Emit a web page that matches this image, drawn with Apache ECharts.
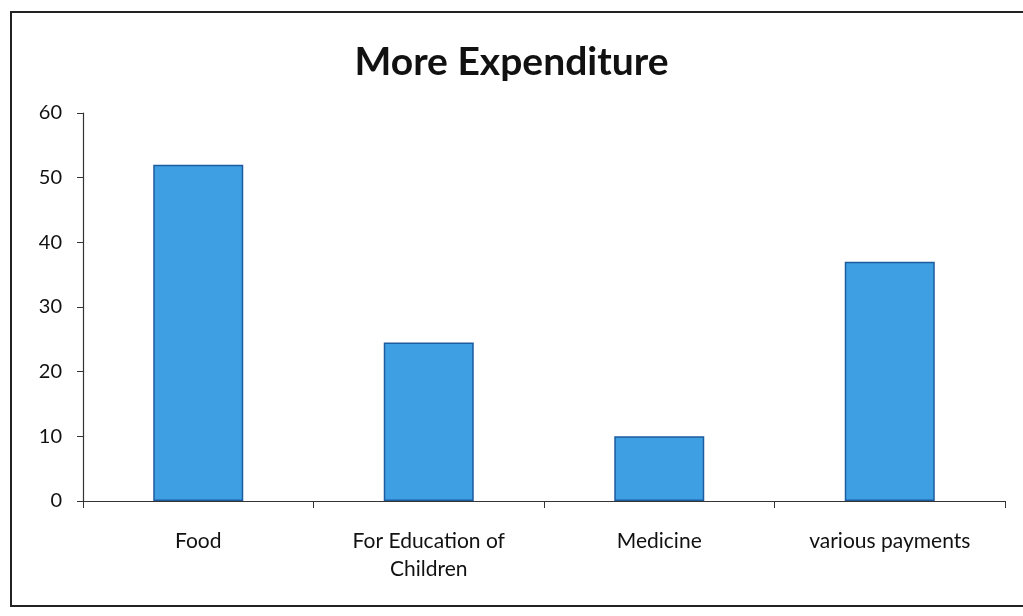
<!DOCTYPE html>
<html>
<head>
<meta charset="utf-8">
<script src="https://cdn.jsdelivr.net/npm/echarts@6/dist/echarts.min.js"></script>
<style>
  html, body { margin: 0; padding: 0; background: #fff; }
  #chart { width: 1023px; height: 616px; }
</style>
</head>
<body>
<div id="chart"></div>
<script>
// Spending categories and their values
const categories = ['Food', 'For Education of\nChildren', 'Medicine', 'various payments'];
const values = [52, 24.5, 10, 37];
const yTicks = { min: 0, max: 60, interval: 10 };

const chart = echarts.init(document.getElementById('chart'), null, { renderer: 'canvas' });

const FONT = 'Lato, "Open Sans", sans-serif';

chart.setOption({
  backgroundColor: '#ffffff',
  animation: false,
  title: {
    text: 'More Expenditure',
    left: 'center',
    top: 38,
    textStyle: { fontFamily: FONT, fontWeight: 'bold', fontSize: 39, color: '#111' }
  },
  graphic: [{
    type: 'rect',
    shape: { x: 11, y: 12, width: 1030, height: 594 },
    style: { fill: 'none', stroke: '#222', lineWidth: 2 },
    silent: true
  }],
  grid: { left: 83, right: 18, top: 113, bottom: 115 },
  xAxis: {
    type: 'category',
    data: categories,
    axisLine: { lineStyle: { color: '#333', width: 1.2 } },
    axisTick: { show: true, length: 7, lineStyle: { color: '#333' } },
    axisLabel: {
      margin: 26,
      fontFamily: FONT, fontSize: 21, color: '#111', lineHeight: 28
    }
  },
  yAxis: {
    type: 'value',
    min: yTicks.min, max: yTicks.max, interval: yTicks.interval,
    axisLine: { show: true, lineStyle: { color: '#333', width: 1.2 } },
    axisTick: { show: true, length: 6, lineStyle: { color: '#333' } },
    splitLine: { show: false },
    axisLabel: { margin: 21, fontFamily: FONT, fontSize: 20, color: '#111' }
  },
  series: [{
    type: 'bar',
    data: values,
    barWidth: 90,
    itemStyle: { color: '#3e9fe2', borderColor: '#1d5c9e', borderWidth: 1.5 }
  }]
});
</script>
</body>
</html>
